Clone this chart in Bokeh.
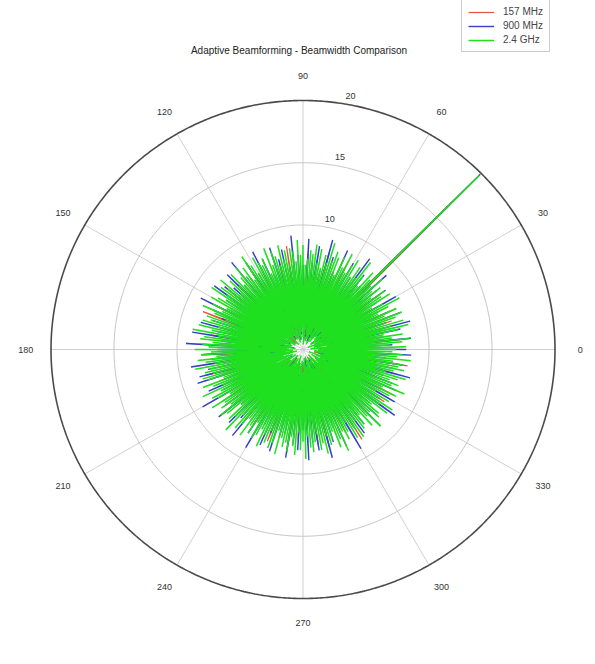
import numpy as np
from bokeh.plotting import figure
from bokeh.models import Range1d, Label, Legend, LegendItem
from bokeh.core.properties import value
from bokeh.embed import file_html
from bokeh.resources import INLINE

# ---------------- data ----------------
chart_title = "Adaptive Beamforming - Beamwidth Comparison"
series_names = ["157 MHz", "900 MHz", "2.4 GHz"]
series_colors = ["#e25545", "#3440c8", "#1fe01f"]

# angular step (degrees) of each sampled pattern
step_157 = 3.0
step_900 = 1.5
step_2400 = 0.75

r_157 = [
    6.9, 1.6, 7.8, 2.4, 6.2, 0.9, 7.4, 2.8, 8.1, 1.3, 6.7, 3.0,
    7.5, 2.1, 2.5, 19.7, 1.8, 7.0, 2.6, 6.4, 1.1, 7.9, 3.2, 6.8,
    1.5, 8.0, 2.2, 6.6, 0.8, 7.7, 2.9, 6.1, 1.4, 8.4, 2.3, 7.2,
    3.1, 6.5, 1.0, 7.6, 2.7, 8.2, 1.7, 6.9, 3.3, 7.3, 0.7, 8.0,
    2.0, 6.3, 2.6, 7.8, 1.2, 8.5, 3.0, 6.6, 1.9, 7.4, 2.4, 6.0,
    1.1, 7.9, 2.8, 6.8, 0.9, 8.1, 3.4, 7.1, 1.6, 6.4, 2.5, 7.7,
    2.2, 8.3, 1.3, 6.7, 3.1, 7.5, 0.8, 8.0, 2.7, 6.2, 1.8, 7.9,
    3.0, 6.9, 1.5, 8.4, 2.3, 7.2, 1.0, 6.5, 2.9, 7.8, 1.4, 8.2,
    2.5, 6.1, 3.2, 7.4, 0.7, 8.6, 2.0, 6.8, 1.7, 7.6, 3.3, 6.3,
    1.2, 7.7, 2.6, 8.1, 1.9, 6.6, 3.1, 7.3, 0.9, 8.4, 2.4, 7.0,
]

r_900 = [
    8.2, 2.0, 7.1, 1.3, 8.6, 3.0, 6.4, 2.4, 7.9, 0.9, 8.8, 1.7,
    6.9, 2.8, 8.3, 1.1, 7.4, 3.2, 6.7, 1.9, 8.5, 2.3, 7.0, 0.8,
    8.1, 2.6, 7.5, 3.4, 8.9, 1.5, 19.9, 2.2, 6.8, 3.1, 7.7, 1.2,
    9.0, 2.5, 6.9, 1.8, 8.0, 3.3, 7.3, 0.7, 8.7, 2.1, 6.6, 2.9,
    7.8, 1.4, 9.1, 2.7, 6.5, 1.0, 8.4, 3.5, 7.2, 1.6, 8.9, 2.3,
    6.8, 3.0, 7.6, 1.2, 9.2, 2.4, 6.7, 1.9, 8.2, 0.8, 7.5, 3.1,
    8.6, 1.7, 6.4, 2.9, 7.9, 1.3, 8.8, 2.6, 7.0, 3.4, 8.3, 1.0,
    7.1, 2.2, 9.0, 0.9, 6.9, 3.2, 8.5, 1.6, 7.4, 2.7, 8.0, 1.4,
    8.7, 3.0, 7.2, 1.8, 6.6, 2.5, 9.1, 1.1, 7.8, 3.3, 6.9, 2.0,
    7.5, 1.5, 8.4, 2.8, 7.0, 0.7, 8.9, 3.1, 6.5, 1.9, 9.3, 2.4,
    6.8, 3.5, 8.1, 1.2, 7.3, 2.6, 9.0, 1.7, 7.7, 0.9, 8.5, 3.0,
    8.8, 2.1, 6.7, 1.4, 8.2, 3.2, 7.1, 2.3, 9.2, 1.0, 6.9, 2.7,
    7.6, 1.6, 8.6, 3.0, 6.6, 1.9, 8.3, 2.5, 7.4, 0.8, 8.9, 1.3,
    7.0, 2.9, 8.0, 1.1, 9.1, 3.4, 6.8, 1.7, 8.4, 2.2, 7.2, 3.1,
    8.6, 0.9, 7.3, 2.4, 6.9, 1.5, 8.8, 3.0, 7.6, 1.2, 8.1, 2.7,
    6.5, 2.0, 8.9, 1.6, 7.5, 3.3, 8.2, 0.7, 7.0, 2.5, 9.0, 1.8,
    7.8, 3.1, 6.7, 2.2, 8.5, 1.3, 7.1, 2.8, 9.2, 1.0, 7.4, 3.4,
    8.3, 1.4, 7.7, 2.6, 6.6, 0.9, 8.7, 3.0, 7.9, 1.7, 6.8, 2.3,
    9.0, 2.8, 7.2, 1.1, 8.4, 3.2, 6.9, 2.0, 8.1, 1.5, 7.6, 2.9,
    6.7, 1.9, 8.8, 3.3, 7.3, 1.2, 8.0, 2.4, 6.6, 3.0, 8.6, 1.6,
]

r_2400 = [
    7.4, 2.1, 8.2, 1.4, 6.8, 3.0, 7.9, 0.6, 8.5, 2.6, 7.1, 1.9,
    8.0, 3.3, 6.5, 1.1, 7.7, 2.4, 8.6, 3.8, 7.2, 0.9, 8.3, 2.0,
    6.9, 1.6, 7.8, 3.1, 8.4, 0.4, 7.0, 2.7, 8.1, 1.3, 6.6, 3.5,
    7.6, 2.2, 8.7, 1.0, 7.3, 2.9, 6.4, 1.8, 8.2, 3.2, 7.5, 0.7,
    8.0, 2.5, 6.8, 1.5, 7.9, 3.6, 7.2, 1.2, 8.5, 2.3, 7.4, 2.0,
    19.8, 2.8, 7.7, 1.4, 8.3, 3.0, 6.7, 0.8, 7.6, 2.6, 8.8, 1.7,
    7.1, 3.4, 8.0, 1.1, 6.9, 2.2, 8.4, 0.5, 7.8, 3.1, 7.0, 1.9,
    8.6, 2.4, 7.3, 1.3, 8.1, 3.7, 6.5, 2.0, 7.9, 0.9, 8.3, 2.7,
    7.5, 1.5, 8.9, 3.0, 7.2, 0.7, 7.8, 2.5, 6.7, 1.2, 8.2, 3.3,
    7.0, 2.1, 8.5, 1.6, 7.7, 2.9, 8.0, 0.4, 7.3, 2.3, 6.8, 1.0,
    8.4, 3.2, 7.6, 1.8, 8.8, 2.6, 7.1, 1.4, 7.9, 3.5, 8.2, 0.8,
    6.9, 2.0, 8.1, 2.8, 7.4, 1.1, 8.6, 3.0, 7.0, 1.7, 7.8, 2.4,
    8.3, 0.6, 7.2, 3.1, 8.7, 1.9, 6.6, 2.5, 8.0, 1.2, 7.5, 3.6,
    7.8, 2.2, 8.4, 0.9, 7.1, 2.7, 7.9, 1.5, 8.9, 3.0, 6.8, 1.3,
    8.1, 2.9, 7.4, 1.0, 8.5, 2.4, 7.6, 0.5, 7.0, 3.3, 8.3, 2.0,
    7.2, 1.4, 8.0, 3.2, 6.7, 2.1, 8.6, 1.1, 7.7, 2.6, 8.2, 0.8,
    7.5, 3.0, 8.8, 1.6, 7.3, 2.3, 7.9, 0.7, 8.4, 2.8, 6.9, 1.9,
    8.0, 2.5, 7.1, 1.2, 8.7, 3.4, 7.6, 2.0, 6.6, 0.9, 8.1, 2.7,
    7.7, 1.5, 8.3, 3.1, 7.0, 1.0, 8.5, 2.4, 7.4, 1.8, 8.9, 3.0,
    6.8, 0.6, 7.9, 2.2, 8.2, 1.3, 7.2, 3.5, 8.0, 2.0, 7.5, 1.1,
    8.6, 2.8, 7.3, 1.7, 8.1, 0.8, 6.9, 2.6, 8.4, 3.2, 7.8, 1.4,
    7.1, 2.3, 8.7, 1.0, 7.6, 2.9, 8.0, 0.5, 7.4, 2.1, 8.3, 3.3,
    7.9, 1.6, 6.7, 2.5, 8.5, 1.2, 7.7, 3.0, 7.0, 0.9, 8.8, 2.4,
    7.3, 3.1, 8.2, 1.5, 7.8, 2.0, 6.8, 1.1, 8.6, 2.7, 7.5, 0.7,
    8.0, 2.2, 7.2, 3.4, 8.4, 1.3, 7.9, 2.6, 6.6, 1.8, 8.1, 2.9,
    7.6, 1.0, 8.9, 2.3, 7.1, 0.6, 8.3, 3.1, 7.7, 1.7, 7.0, 2.5,
    8.5, 1.4, 7.4, 2.8, 8.0, 1.0, 6.9, 3.3, 8.2, 2.1, 7.8, 0.8,
    7.2, 2.6, 8.6, 1.5, 7.5, 3.0, 8.1, 1.2, 7.0, 2.4, 8.4, 1.9,
    7.9, 0.5, 6.8, 2.7, 8.7, 1.6, 7.3, 3.2, 8.0, 1.1, 7.6, 2.2,
    8.3, 3.0, 7.1, 1.3, 7.8, 2.5, 8.5, 0.9, 6.7, 2.0, 8.1, 3.4,
    7.4, 1.8, 8.8, 2.3, 7.0, 1.0, 7.9, 2.9, 8.3, 0.7, 7.5, 2.6,
    6.9, 1.4, 8.2, 3.1, 7.7, 2.0, 8.6, 1.2, 7.2, 2.8, 8.0, 0.6,
    7.6, 2.4, 7.0, 1.5, 8.4, 3.3, 7.8, 0.9, 8.9, 2.2, 7.3, 1.7,
    8.1, 2.9, 7.5, 1.1, 6.8, 2.6, 8.3, 1.8, 7.6, 3.0, 8.5, 0.8,
    7.1, 2.1, 8.0, 1.4, 7.7, 3.5, 6.9, 2.3, 8.2, 1.0, 7.4, 2.7,
    8.7, 0.6, 7.3, 2.5, 8.1, 1.6, 7.9, 3.2, 7.0, 1.3, 8.4, 2.0,
    7.5, 3.1, 8.6, 1.2, 7.2, 2.4, 8.0, 0.8, 6.7, 2.9, 7.8, 1.5,
    8.3, 2.2, 7.0, 3.3, 8.8, 1.1, 7.6, 2.6, 8.1, 0.5, 7.3, 1.9,
    7.9, 2.8, 8.5, 1.4, 6.8, 3.0, 7.4, 1.7, 8.2, 2.3, 7.7, 1.0,
    8.0, 3.4, 7.2, 0.9, 8.6, 2.1, 7.5, 1.6, 7.9, 2.7, 7.1, 1.2,
]

# polar grid definition
r_max = 20
ring_values = [5, 10, 15, 20]
ring_labels = ["5", "10", "15", "20"]
spoke_angles = [0, 30, 60, 90, 120, 150]
angle_ticks = [0, 30, 60, 90, 120, 150, 180, 210, 240, 270, 300, 330]
angle_tick_labels = ["0", "30", "60", "90", "120", "150", "180", "210", "240", "270", "300", "330"]

# ---------------- layout ----------------
W, H = 586, 655
cx, cy = 302.5, 349        # pixel position of polar origin inside the figure
sx, sy = 12.6, 12.45       # pixels per radial unit
FONT = "Liberation Sans"

p = figure(width=W, height=H, output_backend="svg", toolbar_location=None,
           x_range=Range1d(-cx / sx, (W - cx) / sx),
           y_range=Range1d(-(H - cy) / sy, cy / sy),
           min_border=0, outline_line_color=None)
p.axis.visible = False
p.grid.visible = False
p.background_fill_color = "white"
p.border_fill_color = "white"


def pol(r, deg):
    t = np.deg2rad(np.asarray(deg, dtype=float))
    r = np.asarray(r, dtype=float)
    return r * np.cos(t), r * np.sin(t)


# spokes
for a in spoke_angles:
    x0, y0 = pol(r_max, a)
    p.line([-x0, x0], [-y0, y0], line_color="#d0d0d0", line_width=1)

# rings
circ = np.linspace(0, 360, 721)
for rv in ring_values:
    xs, ys = pol(np.full_like(circ, rv), circ)
    if rv == r_max:
        p.line(xs, ys, line_color="#4a4a4a", line_width=1.6)
    else:
        p.line(xs, ys, line_color="#c4c4c4", line_width=1)

# ring labels (at ~80 deg, just outside each ring)
lx, ly = pol(np.array(ring_values) + 0.4, 80.5)
p.text(x=lx, y=ly, text=ring_labels, text_font_size="9px", text_color="#333333",
       text_align="left", text_baseline="bottom", text_font=value(FONT))

# angle labels
ax, ay = pol(np.full(len(angle_ticks), 1.1 * r_max), angle_ticks)
p.text(x=ax, y=ay, text=angle_tick_labels, text_font_size="9px", text_color="#333333",
       text_align="center", text_baseline="middle", text_font=value(FONT))

# data
renderers = []
for vals, step, col, lw in [(r_157, step_157, series_colors[0], 1.2),
                            (r_900, step_900, series_colors[1], 1.4),
                            (r_2400, step_2400, series_colors[2], 1.5)]:
    th = np.arange(len(vals)) * step
    xs, ys = pol(vals, th)
    renderers.append(p.line(xs, ys, line_color=col, line_width=lw, line_join="miter"))

# title
p.add_layout(Label(x=cx - 4, y=H - 50, x_units="screen", y_units="screen", text=chart_title,
                   text_align="center", text_baseline="middle", text_font_size="10px",
                   text_color="#222222", text_font=FONT))

legend = Legend(items=[LegendItem(label=n, renderers=[r]) for n, r in zip(series_names, renderers)],
                location=(461, H - 52), label_text_font_size="10px", label_text_font=FONT,
                glyph_width=26, glyph_height=10, label_height=11, spacing=3, padding=6,
                label_standoff=9, border_line_color="#9a9a9a", background_fill_alpha=1.0,
                margin=0)
p.add_layout(legend)

open("out.html", "w").write(file_html(p, INLINE))
